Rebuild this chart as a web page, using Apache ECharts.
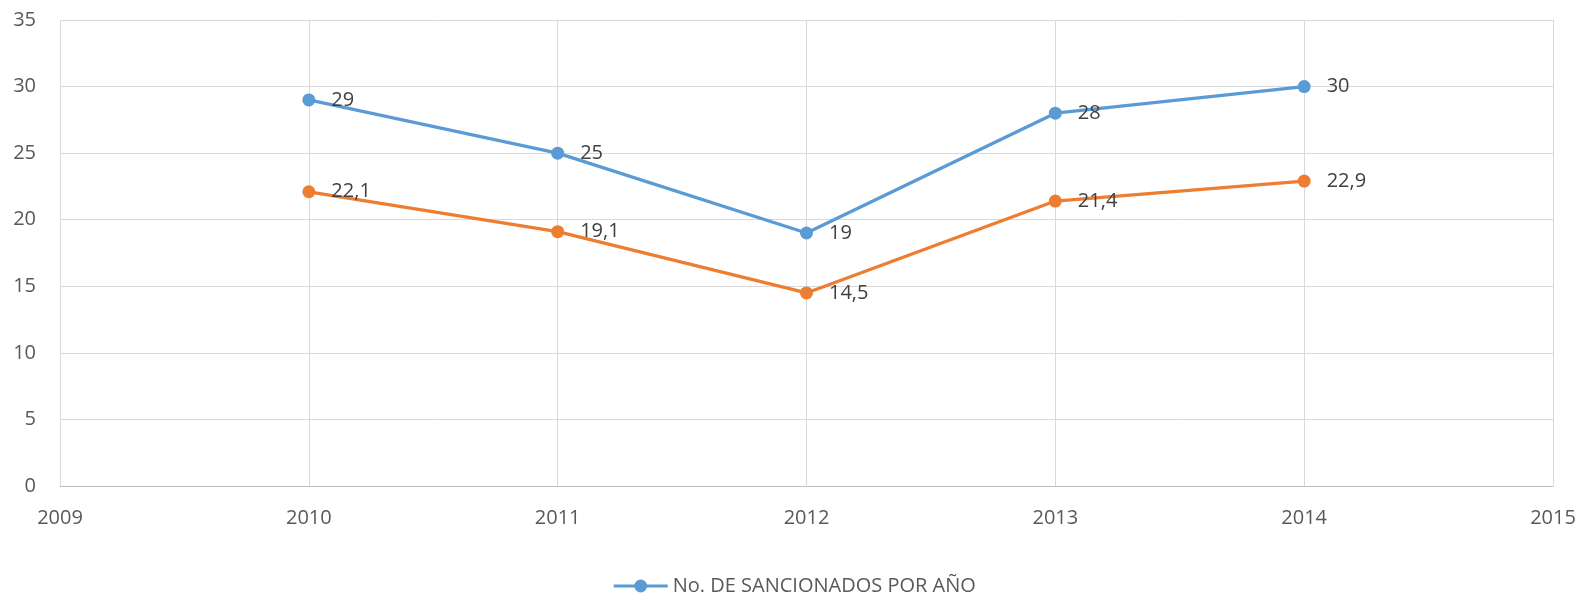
<!DOCTYPE html>
<html>
<head>
<meta charset="utf-8">
<script src="https://cdn.jsdelivr.net/npm/echarts@6/dist/echarts.min.js"></script>
<style>
  html, body { margin: 0; padding: 0; background: #fff; }
  #chart { width: 1588px; height: 602px; }
</style>
</head>
<body>
<div id="chart"></div>
<script>
// years on the x axis
const years = [2010, 2011, 2012, 2013, 2014]
// blue series (the one in the legend)
const sancionados = [29, 25, 19, 28, 30]
// orange series (no legend entry)
const porcentaje = [22.1, 19.1, 14.5, 21.4, 22.9]

const seriesName = 'No. DE SANCIONADOS POR AÑO'

const chart = echarts.init(document.getElementById('chart'))

function pairs(values) {
    let out = []
    for (let i = 0; i < years.length; i++) {
        out.push([years[i], values[i]])
    }
    return out
}

function makeSeries(name, values, color) {
    return {
        name: name,
        type: 'line',
        data: pairs(values),
        symbol: 'circle',
        symbolSize: 13,
        lineStyle: { color: color, width: 3.3 },
        itemStyle: { color: color },
        label: {
            show: true,
            position: 'right',
            distance: 16,
            color: '#404040',
            fontSize: 20,
            fontFamily: 'Open Sans',
            formatter: function (p) {
                return String(p.data[1]).replace('.', ',')
            }
        },
        animation: false
    }
}

const option = {
    backgroundColor: '#ffffff',
    textStyle: { fontFamily: 'Open Sans' },
    grid: { left: 60, right: 35, top: 20, bottom: 116 },
    legend: {
        data: [seriesName],
        bottom: 1,
        left: 'center',
        itemWidth: 54,
        itemHeight: 16,
        itemGap: 4,
        lineStyle: { width: 3 },
        textStyle: { color: '#595959', fontSize: 20, fontFamily: 'Open Sans' }
    },
    xAxis: {
        type: 'value',
        min: 2009,
        max: 2015,
        interval: 1,
        axisLine: { show: true, lineStyle: { color: '#bfbfbf', width: 1 } },
        axisTick: { show: false },
        splitLine: { show: true, lineStyle: { color: '#d9d9d9', width: 1 } },
        axisLabel: {
            color: '#595959',
            fontSize: 20,
            margin: 22,
            formatter: function (v) { return String(v) }
        }
    },
    yAxis: {
        type: 'value',
        min: 0,
        max: 35,
        interval: 5,
        axisLine: { show: false },
        axisTick: { show: false },
        splitLine: { show: true, lineStyle: { color: '#d9d9d9', width: 1 } },
        axisLabel: { color: '#595959', fontSize: 20, margin: 24 }
    },
    series: [
        makeSeries(seriesName, sancionados, '#5B9BD5'),
        makeSeries('% SANCIONADOS', porcentaje, '#ED7D31')
    ]
}

chart.setOption(option)
</script>
</body>
</html>
